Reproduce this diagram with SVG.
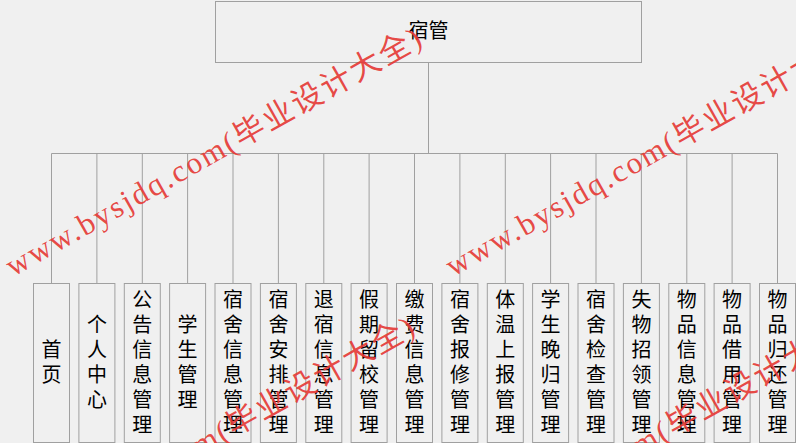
<svg xmlns="http://www.w3.org/2000/svg" width="796" height="443" viewBox="0 0 796 443">
<style>
.bg{fill:#f0f0f0}
.box{fill:#f0f0f0;stroke:#a0a0a0;stroke-width:1}
.ln{stroke:#a0a0a0;stroke-width:1;fill:none}
.lbl{font-family:"Noto Sans CJK SC","Noto Sans",sans-serif;font-size:20px;fill:#000;text-anchor:middle}
.wm{font-family:"Liberation Serif","Noto Sans CJK SC",serif;font-size:31px;fill:#e53935;fill-opacity:0.92}
</style>
<rect class="bg" x="0" y="0" width="796" height="443"/>
<g id="connectors">
<path class="ln" d="M428.5 62.5V153.5M51.5 153.5H777.5"/>
<path class="ln" d="M51.5 153.5V283.5M96.9 153.5V283.5M142.3 153.5V283.5M187.6 153.5V283.5M233 153.5V283.5M278.4 153.5V283.5M323.8 153.5V283.5M369.1 153.5V283.5M414.5 153.5V283.5M459.9 153.5V283.5M505.3 153.5V283.5M550.6 153.5V283.5M596 153.5V283.5M641.4 153.5V283.5M686.8 153.5V283.5M732.1 153.5V283.5M777.5 153.5V283.5"/>
</g>
<g id="root">
<rect class="box" x="215.5" y="1.5" width="426" height="61"/>
<text class="lbl" x="428.5" y="38">宿管</text>
</g>
<g id="n0"><rect class="box" x="33.5" y="283.5" width="36" height="159"/><text class="lbl"><tspan x="51.5" y="356.5">首</tspan><tspan x="51.5" y="381.5">页</tspan></text></g>
<g id="n1"><rect class="box" x="78.9" y="283.5" width="36" height="159"/><text class="lbl"><tspan x="96.9" y="331.5">个</tspan><tspan x="96.9" y="356.5">人</tspan><tspan x="96.9" y="381.5">中</tspan><tspan x="96.9" y="406.5">心</tspan></text></g>
<g id="n2"><rect class="box" x="124.3" y="283.5" width="36" height="159"/><text class="lbl"><tspan x="142.3" y="306.5">公</tspan><tspan x="142.3" y="331.5">告</tspan><tspan x="142.3" y="356.5">信</tspan><tspan x="142.3" y="381.5">息</tspan><tspan x="142.3" y="406.5">管</tspan><tspan x="142.3" y="431.5">理</tspan></text></g>
<g id="n3"><rect class="box" x="169.6" y="283.5" width="36" height="159"/><text class="lbl"><tspan x="187.6" y="331.5">学</tspan><tspan x="187.6" y="356.5">生</tspan><tspan x="187.6" y="381.5">管</tspan><tspan x="187.6" y="406.5">理</tspan></text></g>
<g id="n4"><rect class="box" x="215" y="283.5" width="36" height="159"/><text class="lbl"><tspan x="233" y="306.5">宿</tspan><tspan x="233" y="331.5">舍</tspan><tspan x="233" y="356.5">信</tspan><tspan x="233" y="381.5">息</tspan><tspan x="233" y="406.5">管</tspan><tspan x="233" y="431.5">理</tspan></text></g>
<g id="n5"><rect class="box" x="260.4" y="283.5" width="36" height="159"/><text class="lbl"><tspan x="278.4" y="306.5">宿</tspan><tspan x="278.4" y="331.5">舍</tspan><tspan x="278.4" y="356.5">安</tspan><tspan x="278.4" y="381.5">排</tspan><tspan x="278.4" y="406.5">管</tspan><tspan x="278.4" y="431.5">理</tspan></text></g>
<g id="n6"><rect class="box" x="305.8" y="283.5" width="36" height="159"/><text class="lbl"><tspan x="323.8" y="306.5">退</tspan><tspan x="323.8" y="331.5">宿</tspan><tspan x="323.8" y="356.5">信</tspan><tspan x="323.8" y="381.5">息</tspan><tspan x="323.8" y="406.5">管</tspan><tspan x="323.8" y="431.5">理</tspan></text></g>
<g id="n7"><rect class="box" x="351.1" y="283.5" width="36" height="159"/><text class="lbl"><tspan x="369.1" y="306.5">假</tspan><tspan x="369.1" y="331.5">期</tspan><tspan x="369.1" y="356.5">留</tspan><tspan x="369.1" y="381.5">校</tspan><tspan x="369.1" y="406.5">管</tspan><tspan x="369.1" y="431.5">理</tspan></text></g>
<g id="n8"><rect class="box" x="396.5" y="283.5" width="36" height="159"/><text class="lbl"><tspan x="414.5" y="306.5">缴</tspan><tspan x="414.5" y="331.5">费</tspan><tspan x="414.5" y="356.5">信</tspan><tspan x="414.5" y="381.5">息</tspan><tspan x="414.5" y="406.5">管</tspan><tspan x="414.5" y="431.5">理</tspan></text></g>
<g id="n9"><rect class="box" x="441.9" y="283.5" width="36" height="159"/><text class="lbl"><tspan x="459.9" y="306.5">宿</tspan><tspan x="459.9" y="331.5">舍</tspan><tspan x="459.9" y="356.5">报</tspan><tspan x="459.9" y="381.5">修</tspan><tspan x="459.9" y="406.5">管</tspan><tspan x="459.9" y="431.5">理</tspan></text></g>
<g id="n10"><rect class="box" x="487.3" y="283.5" width="36" height="159"/><text class="lbl"><tspan x="505.3" y="306.5">体</tspan><tspan x="505.3" y="331.5">温</tspan><tspan x="505.3" y="356.5">上</tspan><tspan x="505.3" y="381.5">报</tspan><tspan x="505.3" y="406.5">管</tspan><tspan x="505.3" y="431.5">理</tspan></text></g>
<g id="n11"><rect class="box" x="532.6" y="283.5" width="36" height="159"/><text class="lbl"><tspan x="550.6" y="306.5">学</tspan><tspan x="550.6" y="331.5">生</tspan><tspan x="550.6" y="356.5">晚</tspan><tspan x="550.6" y="381.5">归</tspan><tspan x="550.6" y="406.5">管</tspan><tspan x="550.6" y="431.5">理</tspan></text></g>
<g id="n12"><rect class="box" x="578" y="283.5" width="36" height="159"/><text class="lbl"><tspan x="596" y="306.5">宿</tspan><tspan x="596" y="331.5">舍</tspan><tspan x="596" y="356.5">检</tspan><tspan x="596" y="381.5">查</tspan><tspan x="596" y="406.5">管</tspan><tspan x="596" y="431.5">理</tspan></text></g>
<g id="n13"><rect class="box" x="623.4" y="283.5" width="36" height="159"/><text class="lbl"><tspan x="641.4" y="306.5">失</tspan><tspan x="641.4" y="331.5">物</tspan><tspan x="641.4" y="356.5">招</tspan><tspan x="641.4" y="381.5">领</tspan><tspan x="641.4" y="406.5">管</tspan><tspan x="641.4" y="431.5">理</tspan></text></g>
<g id="n14"><rect class="box" x="668.8" y="283.5" width="36" height="159"/><text class="lbl"><tspan x="686.8" y="306.5">物</tspan><tspan x="686.8" y="331.5">品</tspan><tspan x="686.8" y="356.5">信</tspan><tspan x="686.8" y="381.5">息</tspan><tspan x="686.8" y="406.5">管</tspan><tspan x="686.8" y="431.5">理</tspan></text></g>
<g id="n15"><rect class="box" x="714.1" y="283.5" width="36" height="159"/><text class="lbl"><tspan x="732.1" y="306.5">物</tspan><tspan x="732.1" y="331.5">品</tspan><tspan x="732.1" y="356.5">借</tspan><tspan x="732.1" y="381.5">用</tspan><tspan x="732.1" y="406.5">管</tspan><tspan x="732.1" y="431.5">理</tspan></text></g>
<g id="n16"><rect class="box" x="759.5" y="283.5" width="36" height="159"/><text class="lbl"><tspan x="777.5" y="306.5">物</tspan><tspan x="777.5" y="331.5">品</tspan><tspan x="777.5" y="356.5">归</tspan><tspan x="777.5" y="381.5">还</tspan><tspan x="777.5" y="406.5">管</tspan><tspan x="777.5" y="431.5">理</tspan></text></g>
<g id="watermarks">
<text class="wm" transform="translate(13,277) rotate(-29.5)" textLength="472" lengthAdjust="spacing">www.bysjdq.com(毕业设计大全)</text>
<text class="wm" transform="translate(453,277) rotate(-29.5)" textLength="472" lengthAdjust="spacing">www.bysjdq.com(毕业设计大全)</text>
<text class="wm" transform="translate(6,566) rotate(-29.5)" textLength="472" lengthAdjust="spacing">www.bysjdq.com(毕业设计大全)</text>
<text class="wm" transform="translate(446,566) rotate(-29.5)" textLength="472" lengthAdjust="spacing">www.bysjdq.com(毕业设计大全)</text>
</g>
</svg>
